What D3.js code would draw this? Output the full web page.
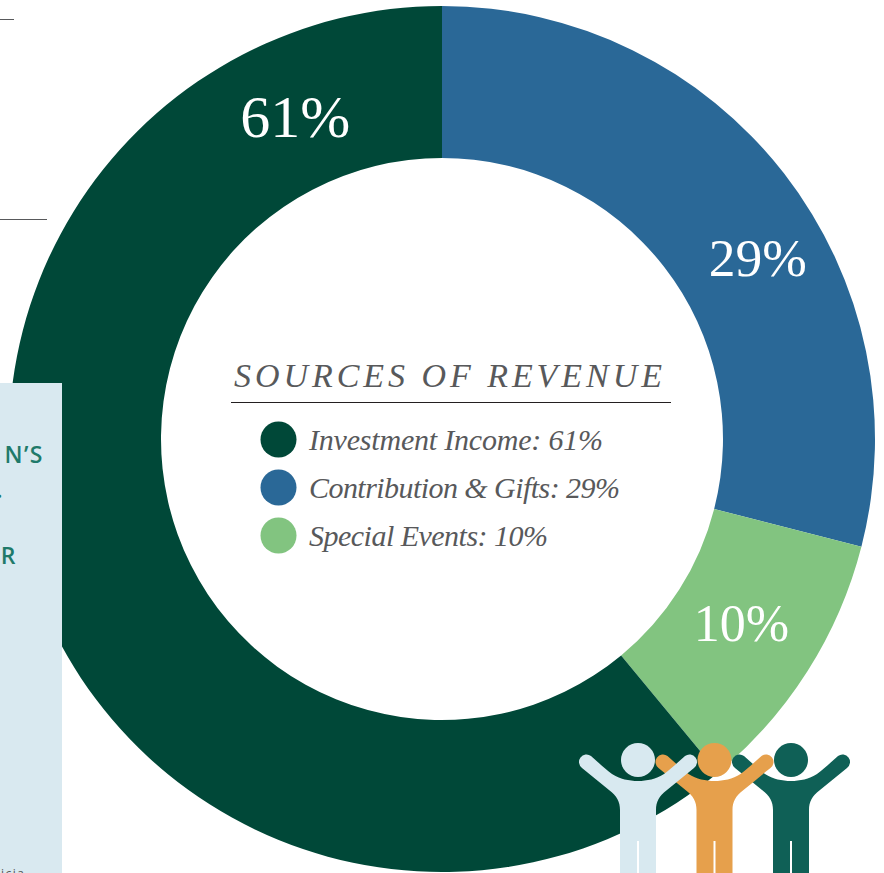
<!DOCTYPE html>
<html><head><meta charset="utf-8">
<style>
html,body{margin:0;padding:0;background:#fff;overflow:hidden}
svg{display:block}
.serif{font-family:"Liberation Serif",serif;font-variant-numeric:oldstyle-nums}
</style>
<script src="https://cdn.jsdelivr.net/npm/d3@7"></script>
</head><body>
<svg id="c" width="884" height="873"></svg>
<script>
const categories = ["Contribution & Gifts", "Special Events", "Investment Income"];
const values = [29, 10, 61];
const sliceColors = ["#2a6897", "#82c480", "#004838"];
const legendOrder = ["Investment Income", "Contribution & Gifts", "Special Events"];
const title = "SOURCES OF REVENUE";
const panelLines = ["N\u2019S", ".", "R"];
const peopleColors = ["#0f6056", "#e6a04c", "#d8e9f0"];

const svg = d3.select("#c");
const cx = 442, cy = 439, rO = 433, rI = 281;
const g = svg.append("g").attr("transform", `translate(${cx},${cy})`);
const pie = d3.pie().value(d => d).sort(null);
const arc = d3.arc().innerRadius(rI).outerRadius(rO);
const slices = pie(values);
g.selectAll("path").data(slices).join("path")
  .attr("d", arc).attr("fill", (d, i) => sliceColors[i]);

// percentage labels (placed along the ring at the reference's angles)
const labelPlace = [
  {a: 60.2, r: 364, s: 53.5},
  {a: 121.7, r: 352, s: 52},
  {a: 335.5, r: 354, s: 60}
];
g.selectAll("text.pct").data(slices).join("text")
  .attr("class", "pct serif")
  .attr("text-anchor", "middle")
  .attr("dominant-baseline", "central")
  .attr("fill", "#fff")
  .attr("font-size", (d, i) => labelPlace[i].s)
  .attr("x", (d, i) => labelPlace[i].r * Math.sin(labelPlace[i].a * Math.PI / 180))
  .attr("y", (d, i) => -labelPlace[i].r * Math.cos(labelPlace[i].a * Math.PI / 180))
  .text(d => d.data + "%");

// centre title and legend
svg.append("text").attr("class", "serif").attr("x", 234).attr("y", 387)
  .attr("font-size", 34).attr("font-style", "italic").attr("fill", "#58595b")
  .attr("textLength", 428).attr("lengthAdjust", "spacing").text(title);
svg.append("line").attr("x1", 231).attr("x2", 671).attr("y1", 402.5).attr("y2", 402.5)
  .attr("stroke", "#231f20").attr("stroke-width", 1);

const legendY = d3.scalePoint().domain(legendOrder).range([439.5, 535.5]);
const legendLen = [294, 311, 239];
const lg = svg.append("g").selectAll("g").data(legendOrder).join("g")
  .attr("transform", d => `translate(0,${legendY(d)})`);
lg.append("circle").attr("cx", 278.5).attr("r", 18)
  .attr("fill", d => sliceColors[categories.indexOf(d)]);
lg.append("text").attr("class", "serif").attr("x", 309).attr("y", 10)
  .attr("font-size", 30).attr("font-style", "italic").attr("fill", "#58595b")
  .attr("textLength", (d, i) => legendLen[i]).attr("lengthAdjust", "spacing")
  .text(d => `${d}: ${values[categories.indexOf(d)]}%`);

// left panel fragment
svg.append("rect").attr("x", 0).attr("y", 383).attr("width", 62).attr("height", 490).attr("fill", "#d9e9f0");
const panelY = [463, 498, 564], panelX = [44, 4, 17];
svg.selectAll("text.panel").data(panelLines).join("text").attr("class", "panel")
  .attr("x", (d, i) => panelX[i]).attr("y", (d, i) => panelY[i])
  .attr("text-anchor", "end").attr("font-family", "'Open Sans',sans-serif")
  .attr("font-weight", 600).attr("font-size", 23).attr("letter-spacing", 1.5)
  .attr("fill", "#1f7a6a").text(d => d);
svg.append("text").attr("x", 1).attr("y", 878).attr("font-family", "'Open Sans',sans-serif")
  .attr("font-size", 12).attr("letter-spacing", 1.5).attr("fill", "#555").text("icia");

// rules at the top left
[[19, 14], [219, 47]].forEach(([y, x2]) =>
  svg.append("line").attr("x1", 0).attr("x2", x2).attr("y1", y + .5).attr("y2", y + .5)
    .attr("stroke", "#58595b").attr("stroke-width", 1));

// people icon
const body = "M-47,-4 C-40,2 -33,9 -26,14 C-18,19 -9,21 0,21 C9,21 18,19 26,14 C33,9 40,2 47,-4 " +
  "A7.5,7.5 0 0 1 56,8 C47,15 38,23 29,30 C21,36 18,42 18,50 L18,115 L1,115 L1,81 L-1,81 L-1,115 L-18,115 L-18,50 " +
  "C-18,42 -21,36 -29,30 C-38,23 -47,15 -56,8 A7.5,7.5 0 0 1 -47,-4 Z";
const px = d3.scaleLinear().domain([0, 2]).range([791, 638]);
const p = svg.append("g").selectAll("g").data(peopleColors).join("g")
  .attr("transform", (d, i) => `translate(${px(i)},760)`).attr("fill", d => d);
p.append("path").attr("d", body);
p.append("circle").attr("r", 17);
</script>
</body></html>
